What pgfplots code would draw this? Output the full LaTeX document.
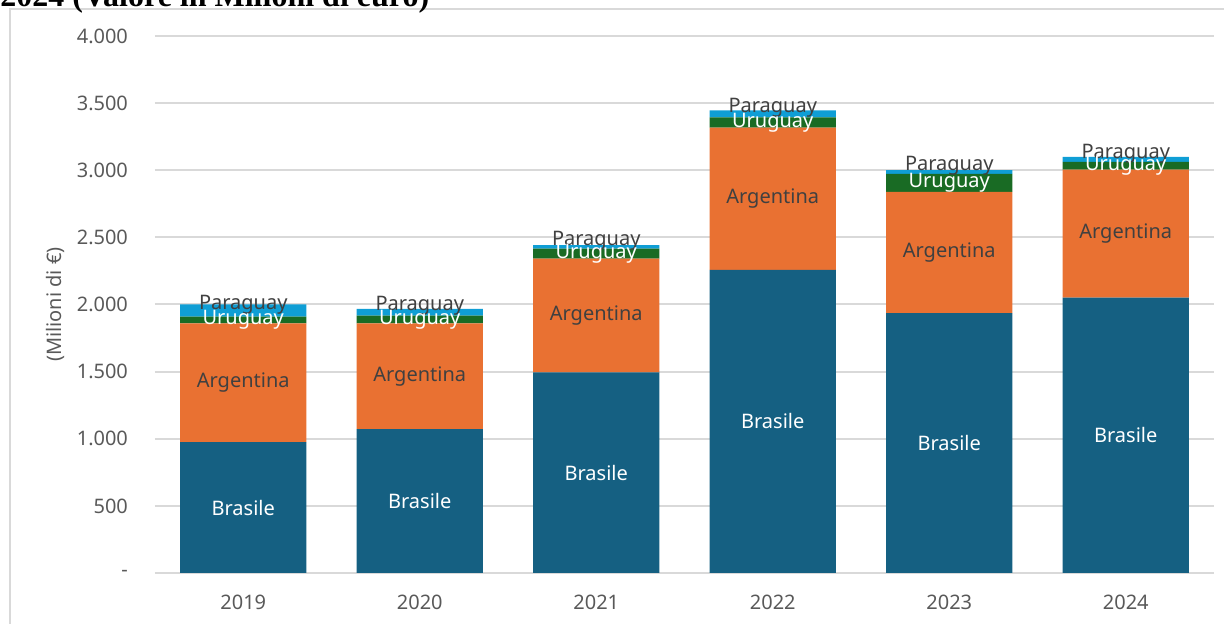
\documentclass[border=0pt]{standalone}
\usepackage{pgfplots}
\pgfplotsset{compat=1.18}
\usepackage{pgfplotstable}
\usepackage{fontspec}
\setmainfont{Noto Sans}
\newfontfamily\titlefont{Liberation Serif}

\definecolor{brasile}{HTML}{156082}
\definecolor{argentina}{HTML}{E97132}
\definecolor{uruguay}{HTML}{196B24}
\definecolor{paraguay}{HTML}{0F9ED5}
\definecolor{gridgray}{HTML}{D9D9D9}
\definecolor{textgray}{HTML}{595959}
\definecolor{labelgray}{HTML}{404040}

% valori in milioni di euro
\pgfplotstableread{
x year brasile argentina uruguay paraguay
0 2019 975  885  50  90
1 2020 1072 788  58  50
2 2021 1495 847  75  25
3 2022 2258 1059 77  51
4 2023 1935 903  134 28
5 2024 2052 952  59  37
}\datatable

\begin{document}
\begin{tikzpicture}[font=\fontsize{10}{12}\selectfont]
\begin{axis}[
	at={(0,0)}, anchor=south west,
	scale only axis, width=529.5pt, height=268.5pt,
	ybar stacked, bar width=0.714,
	xmin=-0.5, xmax=5.5, ymin=0, ymax=4000,
	xtick={0,...,5}, xticklabels={2019,2020,2021,2022,2023,2024},
	ytick={0,500,...,4000},
	yticklabels={-,500,1.000,1.500,2.000,2.500,3.000,3.500,4.000},
	ymajorgrids, grid style={gridgray, line width=1pt},
	axis line style={draw=none},
	major tick length=0pt,
	tick label style={textgray},
	yticklabel style={xshift=-10pt},
	xticklabel style={yshift=-7.5pt},
	ylabel={(Milioni di €)},
	every axis y label/.style={at={(axis description cs:-0.0944,0.5)}, rotate=90, anchor=center, textgray},
	every axis plot/.append style={draw=none},
	% stacked labels already land in the middle of each segment
	every node near coord/.append style={anchor=center, font=\fontsize{10}{12}\selectfont},
]
\addplot[fill=brasile, nodes near coords={Brasile},
	every node near coord/.append style={white}]
	table[x=x, y=brasile] {\datatable};
\addplot[fill=argentina, nodes near coords={Argentina},
	every node near coord/.append style={labelgray}]
	table[x=x, y=argentina] {\datatable};
\addplot[fill=uruguay, nodes near coords={Uruguay},
	every node near coord/.append style={white}]
	table[x=x, y=uruguay] {\datatable};
\addplot[fill=paraguay, nodes near coords={Paraguay},
	every node near coord/.append style={labelgray, yshift=3pt}]
	table[x=x, y=paraguay] {\datatable};
\end{axis}
\draw[gridgray, line width=1pt] (-72.5pt,-30pt) -- (-72.5pt,282pt) -- (540pt,282pt);
\node[anchor=base west, inner sep=0pt, font=\titlefont\bfseries\fontsize{16}{19}\selectfont]
	at (-77.5pt,283.2pt) {2024 (Valore in Milioni di euro)};
\pgfresetboundingbox
\path[use as bounding box] (-77.5pt,-25.5pt) rectangle (534.5pt,286.5pt);
\end{tikzpicture}
\end{document}
